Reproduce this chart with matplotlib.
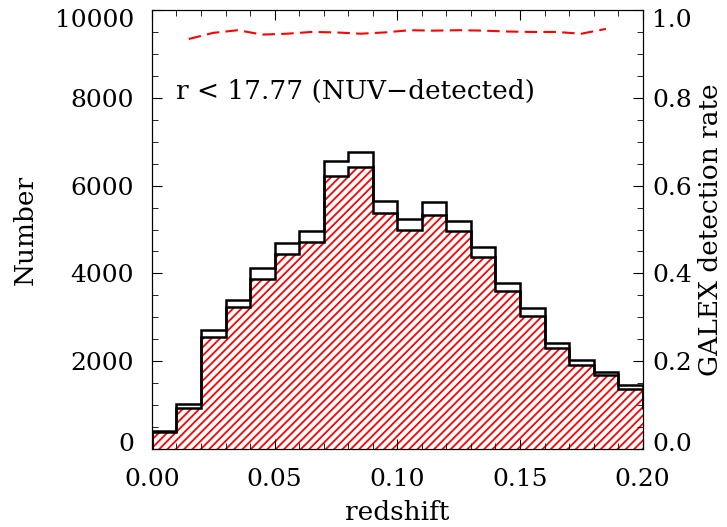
import numpy as np
import matplotlib
matplotlib.use("Agg")
import matplotlib.pyplot as plt
from matplotlib.ticker import MultipleLocator
from matplotlib.transforms import ScaledTranslation

# bin edges in redshift (last bin lies beyond the plotted range)
edges = np.round(np.arange(0.0, 0.2101, 0.01), 3)

# all galaxies with r < 17.77
n_total = [406, 1032, 2705, 3390, 4114, 4685, 4973, 6564, 6776, 5658, 5240,
           5621, 5201, 4607, 3785, 3201, 2425, 2021, 1753, 1450, 993]
# NUV-detected galaxies
n_nuv = [395, 941, 2553, 3237, 3870, 4434, 4721, 6228, 6420, 5370, 4989,
         5331, 4966, 4379, 3603, 3032, 2311, 1906, 1678, 1358, 940]

# GALEX detection rate at bin centres
z_rate = [0.015, 0.025, 0.035, 0.045, 0.055, 0.065, 0.075, 0.085, 0.095,
          0.105, 0.115, 0.125, 0.135, 0.145, 0.155, 0.165, 0.175, 0.185]
rate = [0.934, 0.948, 0.954, 0.944, 0.946, 0.950, 0.949, 0.946, 0.949,
        0.954, 0.953, 0.954, 0.953, 0.951, 0.950, 0.950, 0.946, 0.957]

count_ticks = [0, 2000, 4000, 6000, 8000, 10000]
rate_ticks = [0.0, 0.2, 0.4, 0.6, 0.8, 1.0]
z_ticks = [0.00, 0.05, 0.10, 0.15, 0.20]

plt.rcParams['font.family'] = 'DejaVu Serif'
plt.rcParams['hatch.linewidth'] = 1.3
fs = 19
tfs = 18

fig = plt.figure(figsize=(7.27, 5.27), dpi=100)
ax = fig.add_axes([0.209, 0.148, 0.675, 0.833])

ax.stairs(n_nuv, edges, baseline=0, fill=True, facecolor='none',
          edgecolor='red', hatch='////', linewidth=0)
ax.stairs(n_nuv, edges, baseline=0, color='black', linewidth=1.8)
ax.stairs(n_total, edges, baseline=0, color='black', linewidth=1.8)

ax.set_xlim(0, 0.2)
ax.set_ylim(0, 10000)
ax.set_xticks(z_ticks, [f'{z:.2f}' for z in z_ticks])
ax.set_yticks(count_ticks, [str(c) for c in count_ticks])
ax.xaxis.set_minor_locator(MultipleLocator(0.01))
ax.yaxis.set_minor_locator(MultipleLocator(500))
ax.tick_params(which='both', direction='in', top=True, right=False,
               labelsize=tfs)
ax.tick_params(axis='x', pad=14)
ax.tick_params(axis='y', pad=13)
ax.tick_params(which='major', length=7)
ax.tick_params(which='minor', length=4)
ax.set_xlabel('redshift', fontsize=fs, labelpad=6)
ax.set_ylabel('Number', fontsize=fs, labelpad=12)

ax.text(0.010, 8150, 'r < 17.77 (NUV\u2212detected)', fontsize=fs, va='center')

ax2 = ax.twinx()
ax2.plot(z_rate, rate, color='red', linestyle='--', linewidth=1.5,
         dashes=(6, 3))
ax2.set_ylim(0, 1)
ax2.set_yticks(rate_ticks, [f'{r:.1f}' for r in rate_ticks])
ax2.yaxis.set_minor_locator(MultipleLocator(0.05))
ax2.tick_params(which='both', direction='in', labelsize=tfs, pad=7)
ax2.tick_params(which='major', length=7)
ax2.tick_params(which='minor', length=4)
ax2.set_ylabel('GALEX detection rate', fontsize=fs, rotation=90, labelpad=4)

# the end labels are pulled inward, as in the original
up = ScaledTranslation(0, 5 / 72, fig.dpi_scale_trans)
down = ScaledTranslation(0, -6 / 72, fig.dpi_scale_trans)
for a in (ax, ax2):
    ticks = a.yaxis.get_major_ticks()
    for lab in (ticks[0].label1, ticks[0].label2):
        lab.set_transform(lab.get_transform() + up)
    for lab in (ticks[-1].label1, ticks[-1].label2):
        lab.set_transform(lab.get_transform() + down)

fig.savefig('out.png', dpi=100)
